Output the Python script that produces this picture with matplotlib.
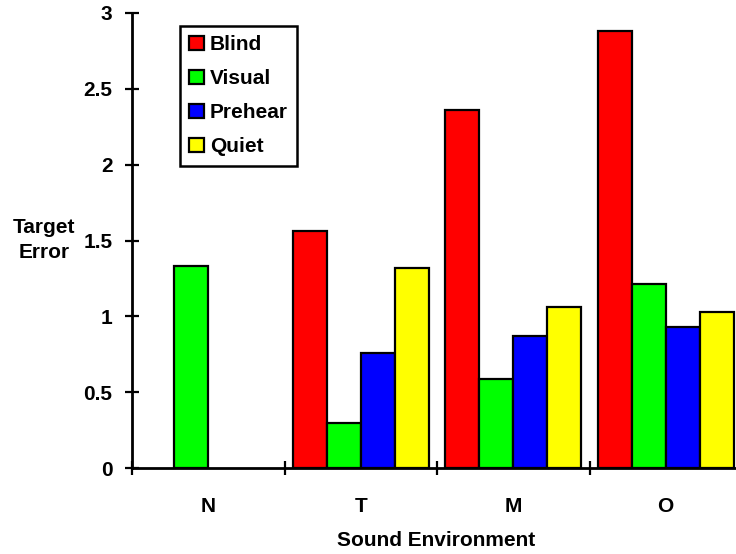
import numpy as np
import matplotlib
matplotlib.use("Agg")
import matplotlib.pyplot as plt

# data
categories = ['N', 'T', 'M', 'O']
series = ['Blind', 'Visual', 'Prehear', 'Quiet']
blind = [np.nan, 1.56, 2.36, 2.88]
visual = [1.33, 0.30, 0.59, 1.21]
prehear = [np.nan, 0.76, 0.87, 0.93]
quiet = [np.nan, 1.32, 1.06, 1.03]
colors = ['#FF0000', '#00FF00', '#0000FF', '#FFFF00']

plt.rcParams['font.family'] = ['Liberation Sans', 'DejaVu Sans']
plt.rcParams['font.weight'] = 'bold'
fs = 15

W, H = 736, 554
fig = plt.figure(figsize=(W / 100, H / 100), dpi=100)
ax = fig.add_axes([132 / W, 1 - 468 / H, 610 / W, 455 / H])

X = np.arange(len(categories))
w = 0.223
for i, (name, vals) in enumerate(zip(series, [blind, visual, prehear, quiet])):
    ax.bar(X + (i - 1.5) * w, vals, width=w, color=colors[i], edgecolor='black',
           linewidth=1.6, label=name, zorder=2)

ax.set_xlim(-0.5, 3.5)
ax.set_ylim(0, 3)
ax.spines['top'].set_visible(False)
ax.spines['right'].set_visible(False)
ax.spines['left'].set_linewidth(2)
ax.spines['bottom'].set_linewidth(2)

ax.set_yticks([0, 0.5, 1, 1.5, 2, 2.5, 3])
ax.set_yticklabels(['0', '0.5', '1', '1.5', '2', '2.5', '3'])
ax.tick_params(axis='y', direction='inout', length=10, width=1.6, pad=9, labelsize=fs)

# boundary ticks on major, category labels on minor
ax.set_xticks([-0.5, 0.5, 1.5, 2.5, 3.5])
ax.set_xticklabels([])
ax.tick_params(axis='x', which='major', direction='inout', length=10, width=1.6)
ax.set_xticks(X, minor=True)
ax.set_xticklabels(categories, minor=True)
ax.tick_params(axis='x', which='minor', length=0, pad=21, labelsize=fs)

fig.text(44 / W, 1 - 240 / H, 'Target\nError', ha='center', va='center',
         fontsize=fs, fontweight='bold', linespacing=1.45)
fig.text(436 / W, 1 - 541 / H, 'Sound Environment', ha='center', va='center',
         fontsize=fs, fontweight='bold')

leg = ax.legend(loc='upper left', bbox_to_anchor=(180 / W, 1 - 26 / H),
                bbox_transform=fig.transFigure, borderaxespad=0, fancybox=False,
                edgecolor='black', framealpha=1, fontsize=fs,
                handlelength=0.68, handleheight=0.68, handletextpad=0.3,
                labelspacing=0.72, borderpad=0.45)
leg.get_frame().set_linewidth(1.8)

fig.savefig('out.png', dpi=100)
